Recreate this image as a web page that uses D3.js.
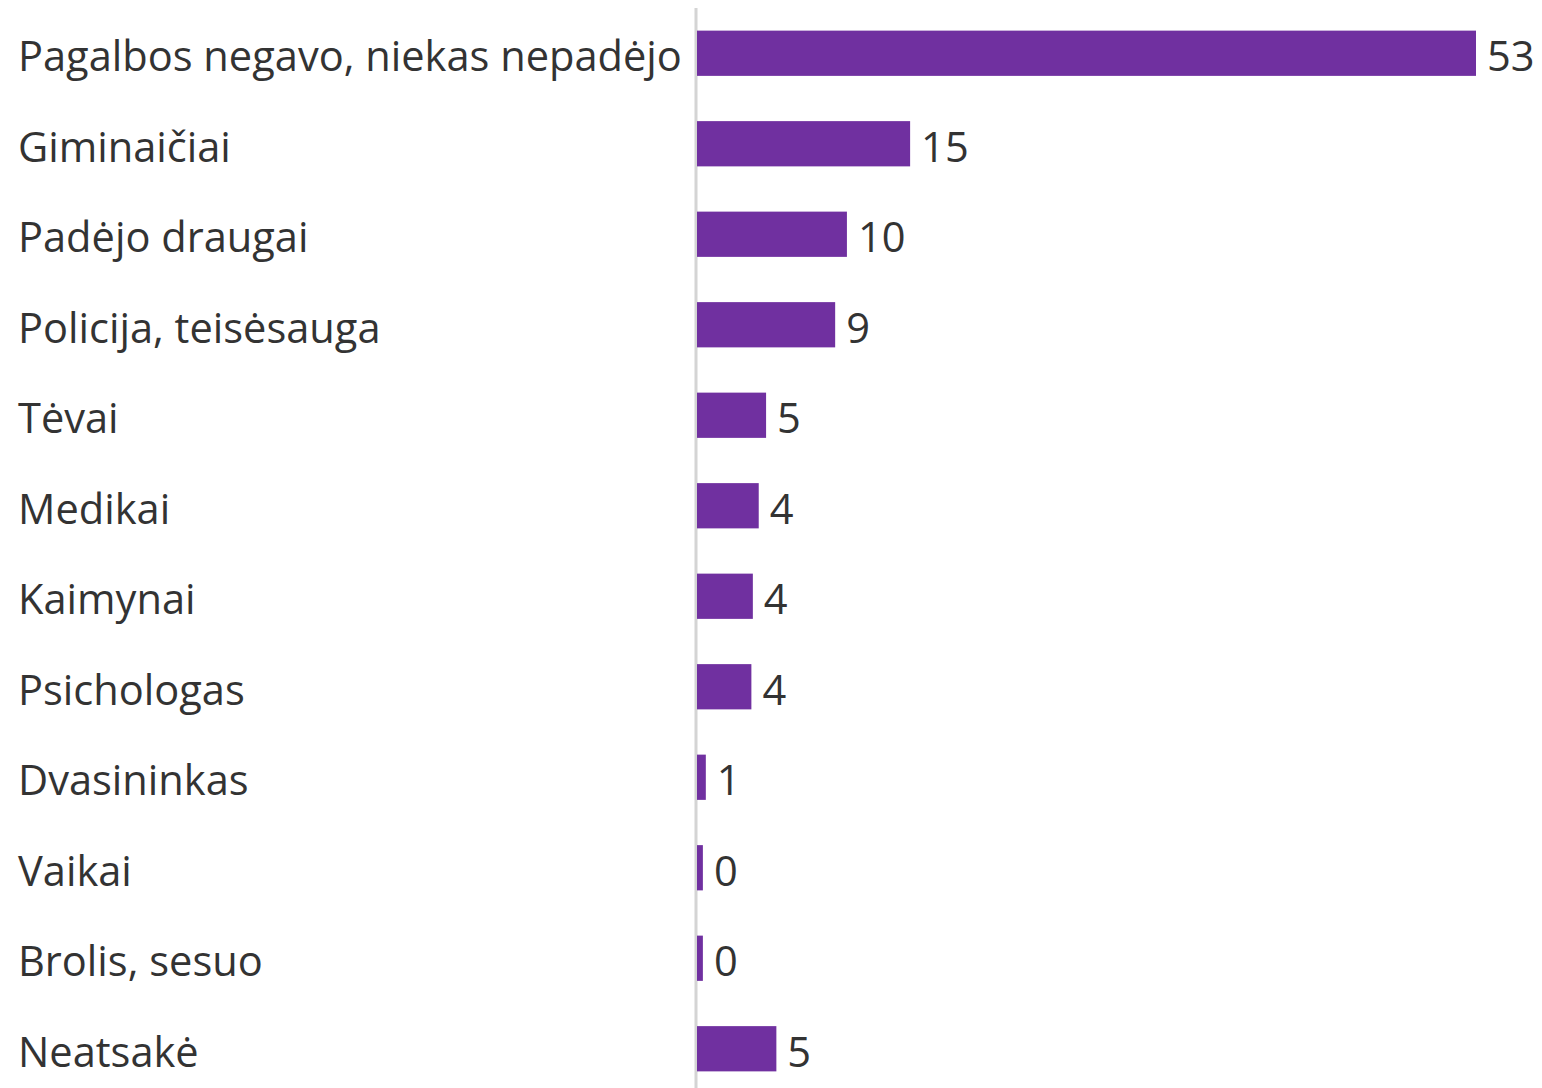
<!DOCTYPE html>
<html><head><meta charset="utf-8">
<script src="https://cdn.jsdelivr.net/npm/d3@7"></script>
<style>html,body{margin:0;padding:0;background:#fff;overflow:hidden}</style>
</head><body>
<svg id="c" width="1542" height="1088"></svg>
<script>
const categories = ["Pagalbos negavo, niekas nepadėjo","Giminaičiai","Padėjo draugai","Policija, teisėsauga","Tėvai","Medikai","Kaimynai","Psichologas","Dvasininkas","Vaikai","Brolis, sesuo","Neatsakė"];
const values = [53, 14.5, 10.2, 9.4, 4.7, 4.2, 3.8, 3.7, 0.6, 0.4, 0.4, 5.4];

const svg = d3.select("#c");
const font = "'Open Sans', sans-serif";
const x = d3.scaleLinear().domain([0, 53]).range([697, 1476]);
const y = d3.scaleBand().domain(categories).range([8, 1094]).paddingInner(0.5).paddingOuter(0.25);

// axis line
svg.append("line").attr("x1", 696).attr("x2", 696).attr("y1", 8).attr("y2", 1088)
  .attr("stroke", "#d4d4d4").attr("stroke-width", 3);

svg.selectAll("rect.bar").data(values).join("rect").attr("class","bar")
  .attr("x", x(0)).attr("y", (d,i)=>y(categories[i]))
  .attr("width", d=>x(d)-x(0)).attr("height", y.bandwidth())
  .attr("fill", "#7030a0");

const cats = svg.selectAll("text.cat").data(categories).join("text").attr("class","cat")
  .attr("x", 18).attr("y", d=>y(d)+y.bandwidth()/2).attr("dy","0.43em")
  .attr("font-family", font).attr("font-size", 34).attr("fill", "#333").text(d=>d);
// fit longest label width to ~664px
const w = cats.nodes()[0].getComputedTextLength();
const fs = 34 * 664 / w;
cats.attr("font-size", fs);

svg.selectAll("text.val").data(values).join("text").attr("class","val")
  .attr("x", d=>x(d)+11).attr("y", (d,i)=>y(categories[i])+y.bandwidth()/2).attr("dy","0.43em")
  .attr("font-family", font).attr("font-size", fs).attr("fill", "#333").text(d=>Math.round(d));
</script>
</body></html>
